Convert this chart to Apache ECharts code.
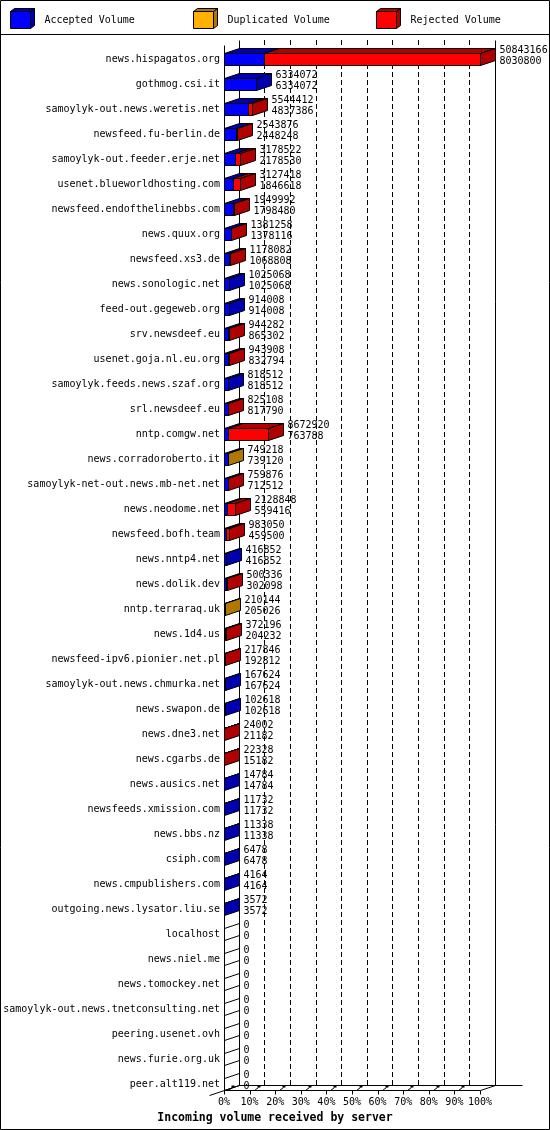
<!DOCTYPE html>
<html>
<head>
<meta charset="utf-8">
<script src="https://cdn.jsdelivr.net/npm/echarts@6/dist/echarts.min.js"></script>
<style>
html,body{margin:0;padding:0;background:#fff;}
#c{width:550px;height:1130px;}
</style>
</head>
<body>
<div id="c"></div>
<script>
const servers = ['news.hispagatos.org','gothmog.csi.it','samoylyk-out.news.weretis.net','newsfeed.fu-berlin.de','samoylyk-out.feeder.erje.net','usenet.blueworldhosting.com','newsfeed.endofthelinebbs.com','news.quux.org','newsfeed.xs3.de','news.sonologic.net','feed-out.gegeweb.org','srv.newsdeef.eu','usenet.goja.nl.eu.org','samoylyk.feeds.news.szaf.org','srl.newsdeef.eu','nntp.comgw.net','news.corradoroberto.it','samoylyk-net-out.news.mb-net.net','news.neodome.net','newsfeed.bofh.team','news.nntp4.net','news.dolik.dev','nntp.terraraq.uk','news.1d4.us','newsfeed-ipv6.pionier.net.pl','samoylyk-out.news.chmurka.net','news.swapon.de','news.dne3.net','news.cgarbs.de','news.ausics.net','newsfeeds.xmission.com','news.bbs.nz','csiph.com','news.cmpublishers.com','outgoing.news.lysator.liu.se','localhost','news.niel.me','news.tomockey.net','samoylyk-out.news.tnetconsulting.net','peering.usenet.ovh','news.furie.org.uk','peer.alt119.net'];

const accepted = [8030800,6334072,4837386,2448248,2178530,1846618,1798480,1378116,1068808,1025068,914008,865302,832794,818512,817790,763788,739120,712512,559416,459500,416852,302098,205026,204232,192812,167624,102618,21182,15182,14784,11732,11338,6478,4164,3572,0,0,0,0,0,0,0];

const duplicated = [0,0,0,0,0,0,0,0,0,0,0,0,0,0,0,0,10098,0,0,0,0,0,5118,0,0,0,0,0,0,0,0,0,0,0,0,0,0,0,0,0,0,0];

const rejected = [42812366,0,707026,95628,999992,1280800,151512,3142,109274,0,0,78980,111114,0,7318,7909132,0,47364,1569432,523550,0,198238,0,167964,25034,0,0,2820,7146,0,0,0,0,0,0,0,0,0,0,0,0,0];

const tickLabels = ['0%','10%','20%','30%','40%','50%','60%','70%','80%','90%','100%'];
const legendNames = ['Accepted Volume','Duplicated Volume','Rejected Volume'];
const axisTitle = 'Incoming volume received by server';

const frontColors = ['#0000FF','#FFB000','#FF0000'];
const darkColors = ['#0000B0','#B07800','#B00000'];
const FONT = '"DejaVu Sans Mono", "Liberation Mono", monospace';
const DX = 15, DY = 5, HALF = 6;

const totals = servers.map((_, i) => accepted[i] + duplicated[i] + rejected[i]);
const maxTotal = Math.max.apply(null, totals);
const crisp = v => Math.round(v) + 0.5;

function renderBar(params, api) {
  const i = api.value(0);
  const vals = [api.value(1), api.value(2), api.value(3)];
  const c0 = api.coord([0, i]);
  const yc = c0[1];
  const yt = crisp(yc - HALF), yb = crisp(yc + HALF);
  let x0 = crisp(c0[0]);
  let cum = 0, last = -1;
  const children = [];
  vals.forEach((v, k) => {
    if (v <= 0) return;
    cum += v;
    const x1 = crisp(api.coord([cum / maxTotal * 100, i])[0]);
    children.push({type:'rect', shape:{x:x0, y:yt, width:x1 - x0, height:yb - yt},
      style:{fill:frontColors[k], stroke:'#000', lineWidth:1}});
    children.push({type:'polygon', shape:{points:[[x0,yt],[x0+DX,yt-DY],[x1+DX,yt-DY],[x1,yt]]},
      style:{fill:darkColors[k], stroke:'#000', lineWidth:1}});
    x0 = x1; last = k;
  });
  children.push({type:'polygon', shape:{points:[[x0,yt],[x0+DX,yt-DY],[x0+DX,yb-DY],[x0,yb]]},
    style:{fill: last >= 0 ? darkColors[last] : 'none', stroke:'#000', lineWidth:1}});
  const total = vals[0] + vals[1] + vals[2];
  children.push({type:'text', x: x0 + DX + 4, y: yc - 9,
    style:{text:String(total), fill:'#000', font:'10px ' + FONT, align:'left', verticalAlign:'middle'}});
  children.push({type:'text', x: x0 + DX + 4, y: yc + 2,
    style:{text:String(vals[0]), fill:'#000', font:'10px ' + FONT, align:'left', verticalAlign:'middle'}});
  return {type:'group', children};
}

const chart = echarts.init(document.getElementById('c'), null, {renderer:'canvas'});

const option = {
  animation: false,
  backgroundColor: '#fff',
  grid: [
    {left:224, top:46.5, width:256, height:1050},
    {left:239, top:40, width:256, height:1045}
  ],
  xAxis: [
    {gridIndex:0, type:'value', min:0, max:100, interval:10,
      axisLine:{show:false}, axisTick:{show:false}, splitLine:{show:false},
      axisLabel:{margin:1, color:'#000', fontFamily:FONT, fontSize:10,
        formatter: v => tickLabels[Math.round(v / 10)]}},
    {gridIndex:1, type:'value', min:0, max:100, interval:10,
      axisLine:{show:false}, axisTick:{show:false}, axisLabel:{show:false},
      splitLine:{show:true, showMinLine:false, showMaxLine:false,
        lineStyle:{color:'#000', width:1, type:[5,3]}}}
  ],
  yAxis: [
    {gridIndex:0, type:'category', data:servers, inverse:true,
      axisLine:{show:false}, axisTick:{show:false}, splitLine:{show:false},
      axisLabel:{margin:4, color:'#000', fontFamily:FONT, fontSize:10, interval:0}},
    {gridIndex:1, type:'category', data:servers, inverse:true, show:false}
  ],
  series: [{
    type:'custom', xAxisIndex:0, yAxisIndex:0, clip:false, z:5,
    data: servers.map((s, i) => [i, accepted[i], duplicated[i], rejected[i]]),
    encode:{x:[1], y:0},
    renderItem: renderBar
  }]
};
chart.setOption(option);

// frame decorations computed from the axes
const fx = p => chart.convertToPixel({xAxisIndex:0}, p);
const bx = p => chart.convertToPixel({xAxisIndex:1}, p);
const lastY = chart.convertToPixel({yAxisIndex:0}, servers.length - 1);
const frontBase = crisp(lastY + HALF);
const backBase = frontBase - DY;
const x0f = crisp(fx(0)), x100f = crisp(fx(100));
const x0b = crisp(bx(0)), x100b = crisp(bx(100));
const backTop = 40.5, frontTop = 45.5;

const L = (x1,y1,x2,y2,w) => ({type:'line', shape:{x1,y1,x2,y2}, style:{stroke:'#000', lineWidth:w||1}, z:1});
const g = [];
// outer border and legend separator
g.push({type:'rect', shape:{x:0.5,y:0.5,width:549,height:1129}, style:{fill:'none', stroke:'#000', lineWidth:1}, z:0});
g.push(L(0, 34.5, 550, 34.5));
// walls
g.push(L(x0b, backTop, x0b, backBase));
g.push(L(x100b, backTop, x100b, backBase));
g.push(L(x0f, frontTop, x0f, frontBase));
g.push(L(x0b, backBase, x100b + 27, backBase));
g.push(L(x0f, frontBase, x100f, frontBase));
g.push(L(x100f, frontBase, x100b, backBase));
g.push(L(x0f - 15, frontBase + 5, x0b, backBase));
// ticks on the front floor edge
for (let p = 0; p <= 100; p += 10) {
  const X = crisp(fx(p));
  g.push(L(X, frontBase, X, frontBase + 4));
  if (p < 100) {
    g.push(L(X + 4, frontBase, X + 8, frontBase - 3));
    g.push({type:'rect', shape:{x:X + 7, y:backBase, width:3, height:2}, style:{fill:'#000'}, z:1});
  }
}
// legend with 3D boxes
legendNames.forEach((name, k) => {
  const x = 10.5 + 183 * k;
  g.push({type:'polygon', shape:{points:[[x,11.5],[x+4,8.5],[x+24,8.5],[x+20,11.5]]}, style:{fill:darkColors[k], stroke:'#000', lineWidth:1}, z:2});
  g.push({type:'polygon', shape:{points:[[x+20,11.5],[x+24,8.5],[x+24,25.5],[x+20,28.5]]}, style:{fill:darkColors[k], stroke:'#000', lineWidth:1}, z:2});
  g.push({type:'rect', shape:{x:x, y:11.5, width:20, height:17}, style:{fill:frontColors[k], stroke:'#000', lineWidth:1}, z:2});
  g.push({type:'text', x: x + 34, y: 20.5, style:{text:name, fill:'#000', font:'10px ' + FONT, align:'left', verticalAlign:'middle'}, z:2});
});
// axis title
g.push({type:'text', x:275, y:1118, style:{text:axisTitle, fill:'#000', font:'bold 11.5px ' + FONT, align:'center', verticalAlign:'middle'}, z:2});

chart.setOption({graphic: {elements: g}});
</script>
</body>
</html>
